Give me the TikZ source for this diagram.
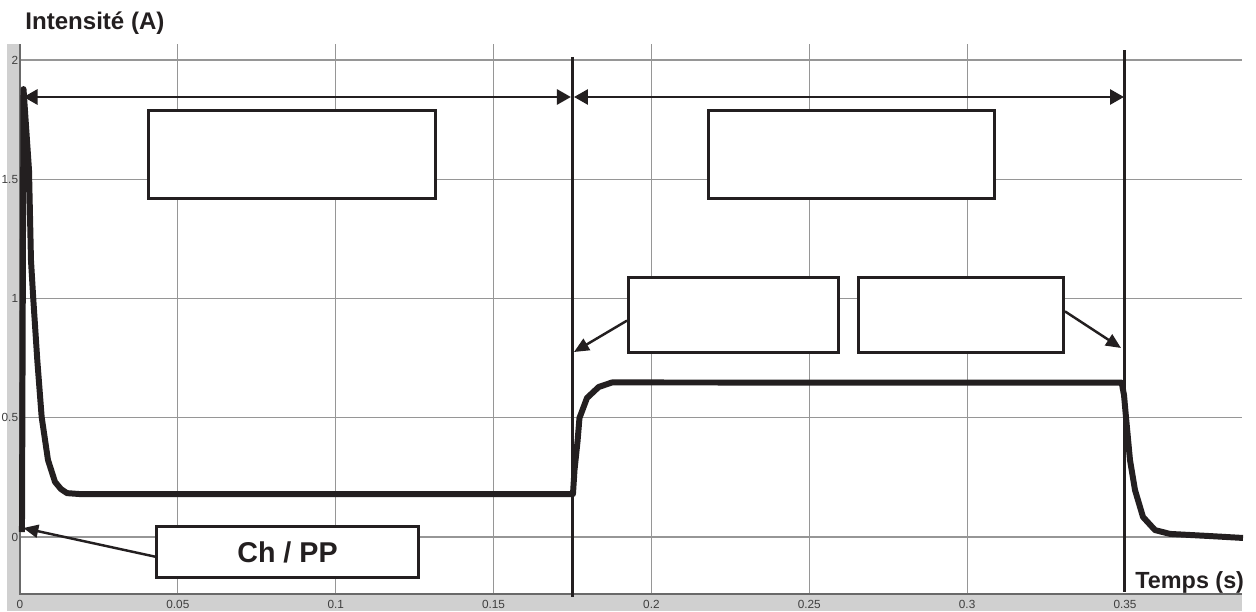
\documentclass[tikz,border=0pt]{standalone}
\usepackage{fontspec}
\setmainfont{Liberation Sans}
\usetikzlibrary{positioning, arrows.meta}
\definecolor{bargray}{RGB}{208,208,208}
\definecolor{gridgray}{RGB}{150,150,150}
\definecolor{axisgray}{RGB}{105,105,105}
\definecolor{ink}{RGB}{35,31,32}
\tikzset{%
	>={Triangle[length=0.28cm, width=0.3cm]},
	grd/.style = {draw = gridgray, line width = 0.6pt},
	bnd/.style = {draw = ink, line width = 1.7pt},
	crv/.style = {draw = ink, line width = 3.4pt, line join = round},
	ptr/.style = {draw = ink, line width = 1.4pt, -{Triangle[length=0.3cm, width=0.26cm]}},
	spn/.style = {draw = ink, line width = 1.6pt, <->},
	lbox/.style = {name = #1, draw = ink, fill = white, line width = 1.7pt, inner sep = 0pt},
	tck/.style = {text = axisgray!60!black, font = \fontsize{6.7}{8}\selectfont, inner sep = 0pt}
}
\begin{document}
\begin{tikzpicture}[x=63.14cm, y=4.77cm]
	\useasboundingbox (-0.006335,-0.31027) rectangle (0.39151,2.2516);
	% frame of the scope
	\fill [bargray] (-0.00412,-0.31027) rectangle (0,2.0671);
	\fill [bargray] (-0.00412,-0.31027) rectangle (0.38708,-0.2390);
	\foreach \t in {0.05,0.1,0.15,0.2,0.25,0.3}
		\draw [grd] (\t,-0.239) -- (\t,2.0671);
	\foreach \i in {0,0.5,1,1.5,2}
		\draw [grd] (0,\i) -- (0.38708,\i);
	\draw [axisgray, line width = 0.8pt] (0,2.0671) -- (0,-0.239) -- (0.38708,-0.239);
	\foreach \t [count=\k] in {0,0.05,0.1,0.15,0.2,0.25,0.3,0.35}
		\node [tck] (xt\k) at (\t,-0.2809) {\t};
	\foreach \i [count=\k] in {0,0.5,1,1.5,2}
		\node [tck, anchor = east] (yt\k) at (-0.0005,\i) {\i};
	% current
	\draw [crv] (0.00063,0.021) -- (0.00111,1.878) -- (0.00285,1.539) -- (0.00348,1.161)
		-- (0.00421,0.998) -- (0.00548,0.742) -- (0.00687,0.503) -- (0.00887,0.323)
		-- (0.01109,0.231) -- (0.01299,0.201) -- (0.01489,0.184) -- (0.019,0.180)
		-- (0.17516,0.180) -- (0.17564,0.281) -- (0.17662,0.403) -- (0.17722,0.499)
		-- (0.1796,0.583) -- (0.18331,0.629) -- (0.18752,0.648) -- (0.34897,0.647)
		-- (0.3497,0.595) -- (0.35033,0.503) -- (0.3516,0.323) -- (0.35318,0.197)
		-- (0.35572,0.084) -- (0.35952,0.029) -- (0.36427,0.013) -- (0.37694,0.004)
		-- (0.38739,-0.004);
	% limits
	\coordinate (m1t) at (0.175,2.0126);
	\coordinate (m1b) at (0.175,-0.2516);
	\coordinate (m2t) at (0.35,2.0419);
	\coordinate (m2b) at (0.35,-0.2306);
	\draw [bnd] (m1t) -- (m1b);
	\draw [bnd] (m2t) -- (m2b);
	\coordinate (p0) at (0.00111,1.8449);
	\coordinate (p1) at (0.17452,1.8449);
	\coordinate (p2) at (0.17548,1.8449);
	\coordinate (p3) at (0.3497,1.8449);
	\draw [spn] (p0) -- (p1);
	\draw [spn] (p2) -- (p3);
	% labels
	\node [lbox = {b1}, minimum width = 5.74cm, minimum height = 1.76cm] at (0.08616,1.6038) {};
	\node [lbox = {b2}, minimum width = 5.72cm, minimum height = 1.76cm] at (0.26339,1.6038) {};
	\node [lbox = {b3}, minimum width = 4.2cm, minimum height = 1.5cm] at (0.22601,0.9308) {};
	\node [lbox = {b4}, minimum width = 4.1cm, minimum height = 1.5cm] at (0.29807,0.9308) {};
	\node [lbox = {b5}, minimum width = 5.24cm, minimum height = 1.02cm,
		text = ink, font = \fontsize{16.3}{18}\bfseries] at (0.08473,-0.0629) {Ch / PP};
	\coordinate (q3) at (0.17548,0.7757);
	\coordinate (q4) at (0.34875,0.7925);
	\coordinate (q5) at (0.00105,0.0377);
	\draw [ptr] (b3.183) -- (q3);
	\draw [ptr] (b4.2) -- (q4);
	\draw [ptr] (b5.182) -- (q5);
	\node [anchor = base west, inner sep = 0pt, text = ink, font = \fontsize{13.7}{16}\bfseries]
		(ylab) at (0.00158,2.1287) {Intensité (A)};
	\node [anchor = base west, inner sep = 0pt, text = ink, font = \fontsize{13.3}{16}\bfseries]
		(xlab) at (0.35319,-0.2151) {Temps (s)};
\end{tikzpicture}
\end{document}
